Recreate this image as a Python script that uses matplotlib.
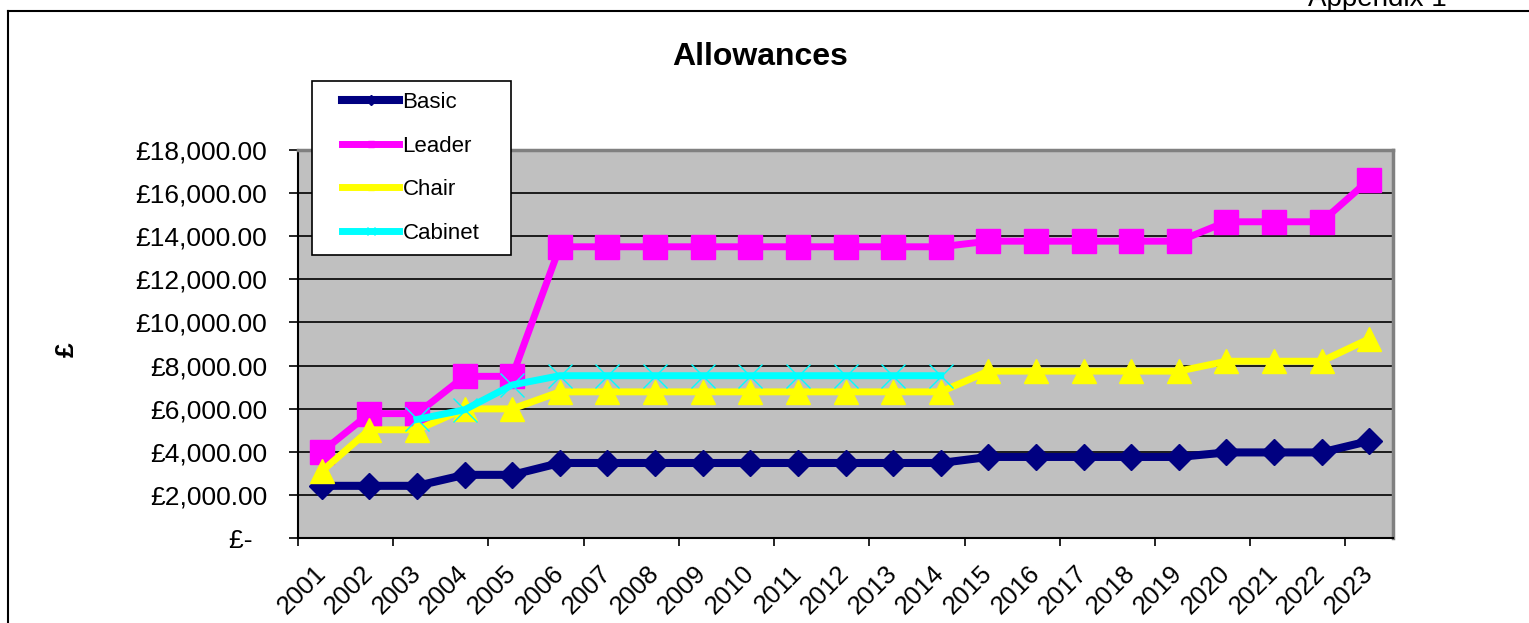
import matplotlib
matplotlib.use("Agg")
import matplotlib.pyplot as plt
from matplotlib.lines import Line2D
from matplotlib.legend_handler import HandlerLine2D
import numpy as np

plt.rcParams['font.family'] = ['Liberation Sans', 'DejaVu Sans']

years = [str(y) for y in range(2001, 2024)]
basic = [2420, 2420, 2420, 2930, 2930, 3480, 3480, 3480, 3480, 3480, 3480, 3480, 3480, 3480,
         3760, 3760, 3760, 3760, 3760, 3970, 3970, 3970, 4500]
leader = [4000, 5770, 5770, 7500, 7500, 13510, 13510, 13510, 13510, 13510, 13510, 13510, 13510, 13510,
          13770, 13770, 13770, 13770, 13770, 14670, 14670, 14670, 16620]
chair = [3100, 5020, 5020, 5990, 5990, 6780, 6780, 6780, 6780, 6780, 6780, 6780, 6780, 6780,
         7740, 7740, 7740, 7740, 7740, 8200, 8200, 8200, 9240]
cabinet = [np.nan, np.nan, 5500, 5950, 7100, 7530, 7530, 7530, 7530, 7530, 7530, 7530, 7530, 7530] + [np.nan] * 9
yticks = [0, 2000, 4000, 6000, 8000, 10000, 12000, 14000, 16000, 18000]
ytick_labels = ['£-  ', '£2,000.00', '£4,000.00', '£6,000.00', '£8,000.00', '£10,000.00',
                '£12,000.00', '£14,000.00', '£16,000.00', '£18,000.00']
series_names = ['Basic', 'Leader', 'Chair', 'Cabinet']

W, H = 1529, 623
fig = plt.figure(figsize=(W / 100, H / 100), dpi=100)
ax = fig.add_axes([298 / W, 1 - 538 / H, 1095 / W, 388 / H])
ax.set_facecolor('#C0C0C0')

x = np.arange(len(years)) + 0.5
ax.plot(x, basic, color='#000080', lw=5.8, marker='D', ms=13, mec='#000080', mfc='#000080', zorder=3)
ax.plot(x, leader, color='#FF00FF', lw=5.0, marker='s', ms=17, mec='#FF00FF', mfc='#FF00FF', zorder=4)
ax.plot(x, chair, color='#FFFF00', lw=5.0, marker='^', ms=17, mec='#FFFF00', mfc='#FFFF00', zorder=5)
ax.plot(x, cabinet, color='#00FFFF', lw=5.0, marker='x', ms=17, mec='#00FFFF', mew=1.0, zorder=6)

ax.set_xlim(0, len(years))
ax.set_ylim(0, 18000)
ax.set_yticks(yticks)
ax.set_yticklabels(ytick_labels, fontsize=19)
ax.tick_params(axis='y', direction='out', length=6.5, width=1.2, pad=15.5, colors='black')
ax.yaxis.grid(True, color='black', lw=1.2)
ax.set_axisbelow(True)

ax.set_xticks(np.arange(0, len(years), 2))
ax.set_xticklabels([])
ax.tick_params(axis='x', which='major', direction='out', length=5.8, width=1.2)
ax.set_xticks(x + 0.18, minor=True)
ax.set_xticklabels(years, minor=True, rotation=45, ha='right', va='top', fontsize=18.5)
ax.tick_params(axis='x', which='minor', length=0, pad=16.5)

for s in ['left', 'bottom']:
    ax.spines[s].set_color('black')
    ax.spines[s].set_linewidth(1.5)
for s in ['top', 'right']:
    ax.spines[s].set_color('#808080')
    ax.spines[s].set_linewidth(2.5)

# title and labels
fig.text(760 / W, 1 - 57 / H, 'Allowances', ha='center', va='center', fontsize=23, fontweight='bold')
fig.text(67 / W, 1 - 350 / H, '£', ha='center', va='center', fontsize=19, fontweight='bold', rotation=90)
fig.text(1447 / W, 1 - 6 / H, 'Appendix 1', ha='right', va='baseline', fontsize=20)

# outer frame
fig.add_artist(Line2D([8 / W, 8 / W], [0, 1 - 11 / H], color='black', lw=1.5, transform=fig.transFigure))
fig.add_artist(Line2D([8 / W, 1], [1 - 11 / H, 1 - 11 / H], color='black', lw=1.5, transform=fig.transFigure))


class ShiftedHandler(HandlerLine2D):
    shift = 13.6  # points

    def get_xdata(self, legend, xdescent, ydescent, width, height, fontsize):
        xdata = [-xdescent + self.shift, -xdescent + width]
        return xdata, [-xdescent + 0.5 * (self.shift + width)]


handles = [
    Line2D([], [], color='#000080', lw=5.8, marker='D', ms=5),
    Line2D([], [], color='#FF00FF', lw=5.0, marker='s', ms=5),
    Line2D([], [], color='#FFFF00', lw=5.0, marker='^', ms=5),
    Line2D([], [], color='#00FFFF', lw=5.0, marker='x', ms=6, mew=1),
]
leg = fig.legend(handles, series_names,
                 loc='lower left', bbox_to_anchor=(312 / W, 1 - 255 / H, 199 / W, 176 / H),
                 mode='expand', fontsize=16, frameon=True, fancybox=False, shadow=False,
                 framealpha=1, edgecolor='black', handlelength=3.42, handletextpad=0.15,
                 labelspacing=1.02, borderpad=0.5, borderaxespad=0,
                 handler_map={Line2D: ShiftedHandler()})
leg.get_frame().set_linewidth(1.2)

fig.savefig('out.png', dpi=100)
